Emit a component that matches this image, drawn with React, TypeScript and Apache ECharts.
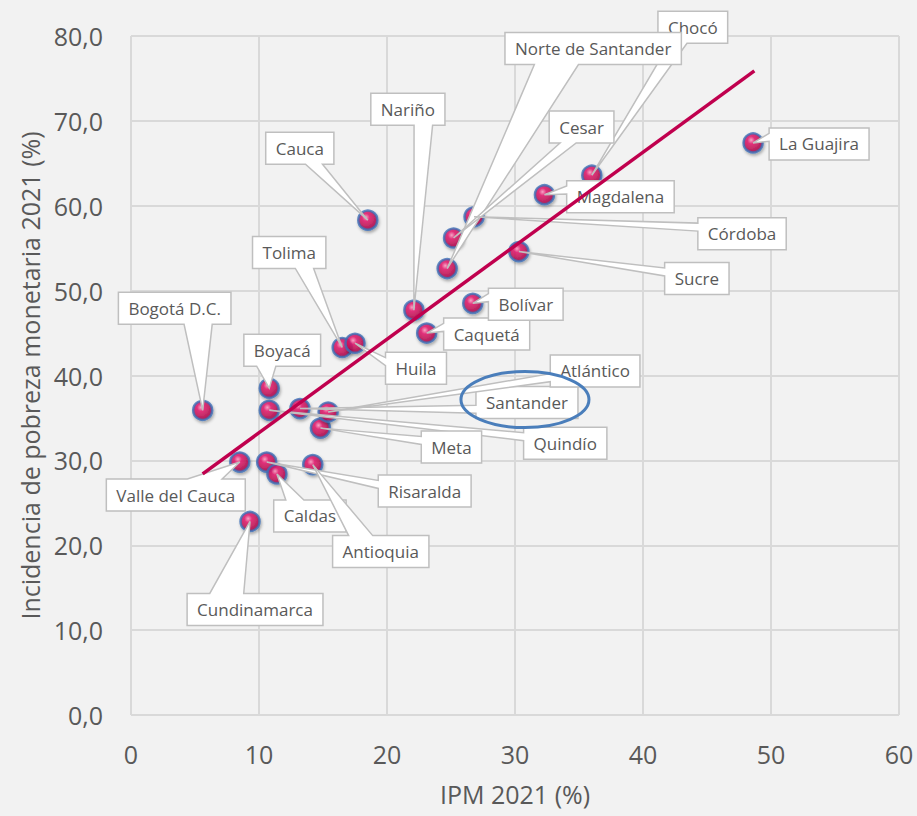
import React, { useEffect, useRef } from "react";
import * as echarts from "echarts";

// ---- Data ----
const departments = [
  "Bogotá D.C.", "Valle del Cauca", "Cundinamarca", "Risaralda", "Boyacá", "Quindío",
  "Caldas", "Santander", "Antioquia", "Meta", "Atlántico", "Tolima", "Huila", "Cauca",
  "Nariño", "Caquetá", "Chocó", "Norte de Santander", "Cesar", "Bolívar", "Córdoba",
  "Sucre", "Magdalena", "La Guajira",
];
const ipm2021 = [
  5.6, 8.5, 9.3, 10.6, 10.8, 10.8,
  11.4, 13.2, 14.2, 14.8, 15.4, 16.5, 17.5, 18.5,
  22.1, 23.1, 36.0, 24.7, 25.2, 26.7, 26.8,
  30.3, 32.3, 48.6,
];
const pobrezaMonetaria2021 = [
  35.9, 29.8, 22.8, 29.8, 38.5, 35.9,
  28.4, 36.1, 29.5, 33.8, 35.7, 43.3, 43.8, 58.3,
  47.7, 45.0, 63.6, 52.6, 56.2, 48.5, 58.7,
  54.6, 61.3, 67.4,
];
const highlightedDepartments = ["Santander"];
const trendX = [5.6, 48.7];
const trendY = [28.4, 75.9];

// ---- Layout of the callouts (box centre offset from its point, px) ----
const calloutOffsets: [number, number][] = [
  [-28, -102], [-64, 33], [5, 88], [158, 29], [13, -38], [296, 33],
  [33, 42], [227, -6], [68, 87], [131, 19], [267, -41], [-53, -95], [61, 25], [-68, -72],
  [-6, -201], [60, 1], [101, -148], [146, -220], [128, -111], [53, 1], [268, 17],
  [178, 27], [76, 2], [66, 1],
];

const FONT = '"Open Sans", "Noto Sans", sans-serif';
const LABEL_SIZE = 17;
const PAD_X = 10;
const BOX_H = 32;

let measureCtx: CanvasRenderingContext2D | null = null;
function textWidth(t: string): number {
  if (!measureCtx) measureCtx = document.createElement("canvas").getContext("2d");
  if (!measureCtx) return t.length * 9;
  measureCtx.font = `${LABEL_SIZE}px ${FONT}`;
  return measureCtx.measureText(t).width;
}

function calloutPoints(px: number, py: number, cx: number, cy: number, w: number, h: number) {
  const l = cx - w / 2, r = cx + w / 2, t = cy - h / 2, b = cy + h / 2;
  const dxPos = px - cx, dyPos = py - cy;
  const inside = px >= l && px <= r && py >= t && py <= b;
  const side = Math.abs((dxPos * h) / w) > Math.abs(dyPos);
  const hx = dxPos < 0 ? [2 / 12, 5 / 12] : [7 / 12, 10 / 12];
  const hy = dyPos < 0 ? [2 / 12, 5 / 12] : [7 / 12, 10 / 12];
  const pts: number[][] = [[l, t]];
  if (!inside && !side && dyPos < 0) pts.push([l + w * hx[0], t], [px, py], [l + w * hx[1], t]);
  pts.push([r, t]);
  if (!inside && side && dxPos > 0) pts.push([r, t + h * hy[0]], [px, py], [r, t + h * hy[1]]);
  pts.push([r, b]);
  if (!inside && !side && dyPos > 0) pts.push([l + w * hx[1], b], [px, py], [l + w * hx[0], b]);
  pts.push([l, b]);
  if (!inside && side && dxPos < 0) pts.push([l, t + h * hy[1]], [px, py], [l, t + h * hy[0]]);
  return pts;
}

export default function App() {
  const ref = useRef<HTMLDivElement>(null);
  useEffect(() => {
    if (!ref.current) return;
    const chart = echarts.init(ref.current, null, { renderer: "svg" });
    const points = departments.map((d, i) => ({ name: d, value: [ipm2021[i], pobrezaMonetaria2021[i]] }));
    const hiIdx = departments.map((d, i) => (highlightedDepartments.includes(d) ? i : -1)).filter((i) => i >= 0);

    const axisText = { color: "#595959", fontSize: 25, fontFamily: FONT };
    chart.setOption({
      animation: false,
      backgroundColor: "#F2F2F2",
      textStyle: { fontFamily: FONT },
      grid: { left: 131, right: 18, top: 36, bottom: 101 },
      xAxis: {
        type: "value", min: 0, max: 60, interval: 10,
        name: "IPM 2021 (%)", nameLocation: "middle", nameGap: 66,
        nameTextStyle: axisText,
        axisLine: { show: false }, axisTick: { show: false },
        axisLabel: { ...axisText, margin: 26 },
        splitLine: { show: true, lineStyle: { color: "#D9D9D9", width: 2 } },
      },
      yAxis: {
        type: "value", min: 0, max: 80, interval: 10,
        name: "Incidencia de pobreza monetaria 2021 (%)", nameLocation: "middle", nameGap: 88,
        nameTextStyle: axisText,
        axisLine: { show: false }, axisTick: { show: false },
        axisLabel: { ...axisText, margin: 28, formatter: (v: number) => v.toFixed(1).replace(".", ",") },
        splitLine: { show: true, lineStyle: { color: "#D9D9D9", width: 2 } },
      },
      series: [
        {
          type: "scatter", z: 2, symbol: "circle", symbolSize: 19,
          data: points,
          itemStyle: {
            color: new echarts.graphic.RadialGradient(0.4, 0.35, 0.65, [
              { offset: 0, color: "#FF9CC4" },
              { offset: 0.3, color: "#E5136A" },
              { offset: 1, color: "#A3003F" },
            ]),
            borderColor: "#3D6FB6", borderWidth: 2.5,
            shadowBlur: 3, shadowOffsetX: 1, shadowOffsetY: 2, shadowColor: "rgba(0,0,0,0.35)",
          },
        },
        {
          type: "custom", z: 3, clip: false, silent: true,
          data: points,
          renderItem: (params: any, api: any) => {
            const i = params.dataIndex;
            const [px, py] = api.coord([api.value(0), api.value(1)]);
            const name = departments[i];
            const w = textWidth(name) + PAD_X * 2;
            const cx = px + calloutOffsets[i][0], cy = py + calloutOffsets[i][1];
            return {
              type: "group",
              children: [
                {
                  type: "polygon",
                  shape: { points: calloutPoints(px, py, cx, cy, w, BOX_H) },
                  style: { fill: "#FFFFFF", stroke: "#BFBFBF", lineWidth: 1.5 },
                },
                {
                  type: "text", x: cx, y: cy,
                  style: { text: name, fill: "#595959", fontSize: LABEL_SIZE, fontFamily: FONT, align: "center", verticalAlign: "middle" },
                },
              ],
            };
          },
        },
        {
          type: "line", z: 4, symbol: "none", silent: true,
          data: trendX.map((x, i) => [x, trendY[i]]),
          lineStyle: { color: "#C0004E", width: 3.5 },
        },
        {
          type: "custom", z: 5, clip: false, silent: true,
          data: hiIdx.map((i) => ({ value: [ipm2021[i], pobrezaMonetaria2021[i]], idx: i })),
          renderItem: (params: any, api: any) => {
            const i = hiIdx[params.dataIndex];
            const [px, py] = api.coord([api.value(0), api.value(1)]);
            const w = textWidth(departments[i]) + PAD_X * 2;
            const cx = px + calloutOffsets[i][0], cy = py + calloutOffsets[i][1];
            return {
              type: "ellipse",
              shape: { cx: cx - 2, cy: cy - 3, rx: w / 2 + 13, ry: BOX_H / 2 + 12 },
              style: { fill: "none", stroke: "#4A7EBB", lineWidth: 3 },
            };
          },
        },
      ],
    });
    return () => chart.dispose();
  }, []);
  return (
    <div
      ref={ref}
      style={{ position: "fixed", left: 0, top: 0, width: 917, height: 816, background: "#F2F2F2" }}
    />
  );
}
